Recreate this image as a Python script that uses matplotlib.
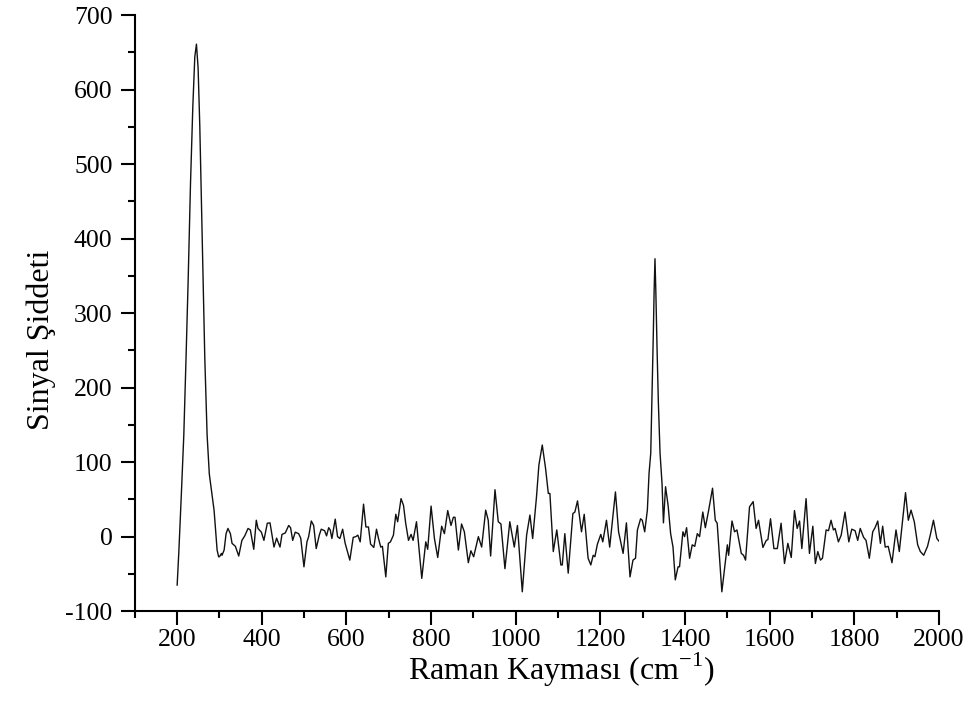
import matplotlib
matplotlib.use("Agg")
import matplotlib.pyplot as plt
from matplotlib.ticker import MultipleLocator

# Raman shift (cm-1) and signal intensity
raman_shift = [
    200, 204, 210, 215.7, 221, 226, 231.5, 237, 241.7, 245.6,
    249.5, 253.5, 257.5, 261.3, 265.3, 270.8, 276, 282.6, 287.3, 290.4,
    294.4, 298, 300, 304.6, 306, 311, 315.6, 320, 325.8, 329.7,
    337.6, 345.5, 353, 359.7, 367.5, 373, 381, 387, 391, 399,
    405, 413, 419.4, 428.8, 435, 443, 447.7, 455.5, 463.5, 468,
    473, 479, 487, 492, 499.6, 506.7, 510.7, 517, 522.5, 528.6,
    535.8, 540.5, 548.4, 553, 558, 561.7, 565.6, 573.5, 579, 584.5,
    591, 597, 608, 616, 622, 627, 632.5, 640.4, 646, 652,
    657, 664.7, 671, 675.8, 681, 685, 693, 699, 704, 711,
    716.6, 721, 729, 734.8, 740, 746.6, 752.7, 757.5, 765.5, 770,
    778, 787.4, 792, 800, 807.9, 815.7, 825, 831.5, 839.3, 847,
    852.7, 856.5, 864.5, 872, 878.6, 888, 894, 900.6, 911.7, 919.5,
    929, 935, 940.7, 951, 958.7, 965, 974.5, 986, 996.6, 1004,
    1015.5, 1025.7, 1033.5, 1040, 1049, 1054.7, 1062.7, 1070.5, 1077, 1080.7,
    1088.7, 1097, 1106.6, 1110, 1116, 1124, 1135, 1139.7, 1146, 1155.4,
    1161.8, 1171, 1177.4, 1183, 1187, 1193, 1201, 1205.7, 1214.4, 1222,
    1235.6, 1243, 1253.7, 1261.5, 1270, 1277, 1283, 1287.5, 1295, 1299,
    1304.7, 1311, 1315, 1319, 1322, 1325, 1327, 1329, 1331, 1334,
    1337, 1341, 1345.7, 1349, 1354, 1360, 1366, 1371.6, 1377, 1383.5,
    1387, 1395, 1399, 1403.7, 1410.8, 1417, 1423, 1429, 1434.4, 1442,
    1448, 1455.7, 1465, 1471.5, 1476, 1487, 1500, 1503, 1511, 1517,
    1522.7, 1533, 1538.3, 1543, 1552.4, 1561, 1568, 1573.7, 1584, 1592,
    1595.8, 1602, 1610, 1618, 1627, 1635, 1643, 1651, 1658.6, 1665,
    1670.6, 1676, 1686, 1694, 1702, 1708, 1713.7, 1720, 1724.7, 1733.4,
    1739, 1745, 1750.6, 1754.6, 1762.4, 1769, 1778, 1787, 1794, 1801.8,
    1808, 1814, 1822, 1827.7, 1835.5, 1843.5, 1849, 1855.4, 1861.6, 1867,
    1873, 1880, 1889, 1898.5, 1906.3, 1914, 1921, 1927.6, 1934, 1941.7,
    1949.7, 1956, 1964, 1973, 1979.4, 1987, 1995, 2000,
]
intensity = [
    -65, -20, 58, 136, 240, 344, 473, 577, 644, 661,
    629, 551, 447, 344, 240, 136, 84, 55, 35, 12,
    -18, -27, -27, -22.6, -25, -18, 4, 11, 4, -9,
    -13, -26, -5, 1, 11, 9, -17, 22, 11, 6,
    -5, 18, 18.5, -14, -2, -14, 3, 5, 15, 12,
    -5, 6, 4, -2, -40.5, -7, 0, 21, 15, -16,
    2, 10, 8, 1, 12, 9, -2.5, 23.5, 0, -2.5,
    10, -9, -31.5, -1, 0, 2, -7, 43.6, 13, 13,
    -10, -14.5, 10, -2.5, -14, -13, -54, -9, -7, 2,
    30, 20, 51, 42, 18, -5, 3, -5, 20, -7,
    -56, -7, -17, 41, -2.5, -28, 14, 4, 35, 15,
    26, 26, -18, 17, 6.5, -35, -19, -27, 0, -14,
    35.6, 22, -26, 63, 20, 17, -43, 20, -14, 15,
    -74, 2, 29, -2.5, 53, 96, 123, 91.5, 58, 58,
    -20, 9, -38, -38, 4, -49, 31, 33, 48, 6.5,
    30, -29, -38, -25, -27, -10, 3, -7, 22, -14,
    60, 6.5, -22.5, 18.5, -54, -31.5, -29, 9, 24, 22,
    6.5, 35.6, 85, 112, 190, 270, 330, 373, 330, 250,
    180, 112, 71, 18.5, 67, 42, 4, -14, -58, -40.5,
    -40.5, 6.5, 0, 12, -29, -11, -13, 4, 0, 33,
    12, 35, 65, 22, 18, -74, -11, -25, 21, 6.5,
    9, -22.5, -25, -31.5, 40, 47, 11, 22, -14.5, -5,
    -4, 24, -16, -16, 18, -36, -9, -28, 35, 11,
    21, -16, 51, -22.5, 14, -36, -20, -31.5, -29, 9,
    8, 22, 9, 11, -7, 2, 33, -7, 10, 8,
    -5, 11, -1, -5, -29, 6.5, 12, 21, -9, 14,
    -14, -13, -35, 9, -20, 22, 59, 22, 35.6, 20,
    -11, -20, -25, -13, 2, 22, -2.5, -6,
]

plt.rcParams["font.family"] = ["Liberation Serif", "DejaVu Serif"]
plt.rcParams["axes.unicode_minus"] = False

fig = plt.figure(figsize=(9.7, 7.19), dpi=100)
ax = fig.add_axes([0.139, 0.150, 0.829, 0.829])

ax.plot(raman_shift, intensity, color="#111111", linewidth=1.0)

ax.set_xlim(100, 2000)
ax.set_ylim(-100, 700)
ax.xaxis.set_major_locator(MultipleLocator(200))
ax.xaxis.set_minor_locator(MultipleLocator(100))
ax.yaxis.set_major_locator(MultipleLocator(100))
ax.yaxis.set_minor_locator(MultipleLocator(50))

for side in ["top", "right"]:
    ax.spines[side].set_visible(False)
for side in ["left", "bottom"]:
    ax.spines[side].set_linewidth(1.5)

ax.tick_params(which="major", direction="out", length=10, width=1.5,
               labelsize=18.5)
ax.tick_params(which="minor", direction="out", length=5, width=1.5)
ax.tick_params(axis="x", which="major", pad=3)
ax.tick_params(axis="y", which="major", pad=6)

ax.set_xlabel("Raman Kayması (cm$^{\\mathregular{-1}}$)", fontsize=23)
ax.set_ylabel("Sinyal Şiddeti", fontsize=23)
ax.xaxis.set_label_coords(0.530, -0.066)
ax.yaxis.set_label_coords(-0.098, 0.456)

fig.savefig("out.png", dpi=100)
